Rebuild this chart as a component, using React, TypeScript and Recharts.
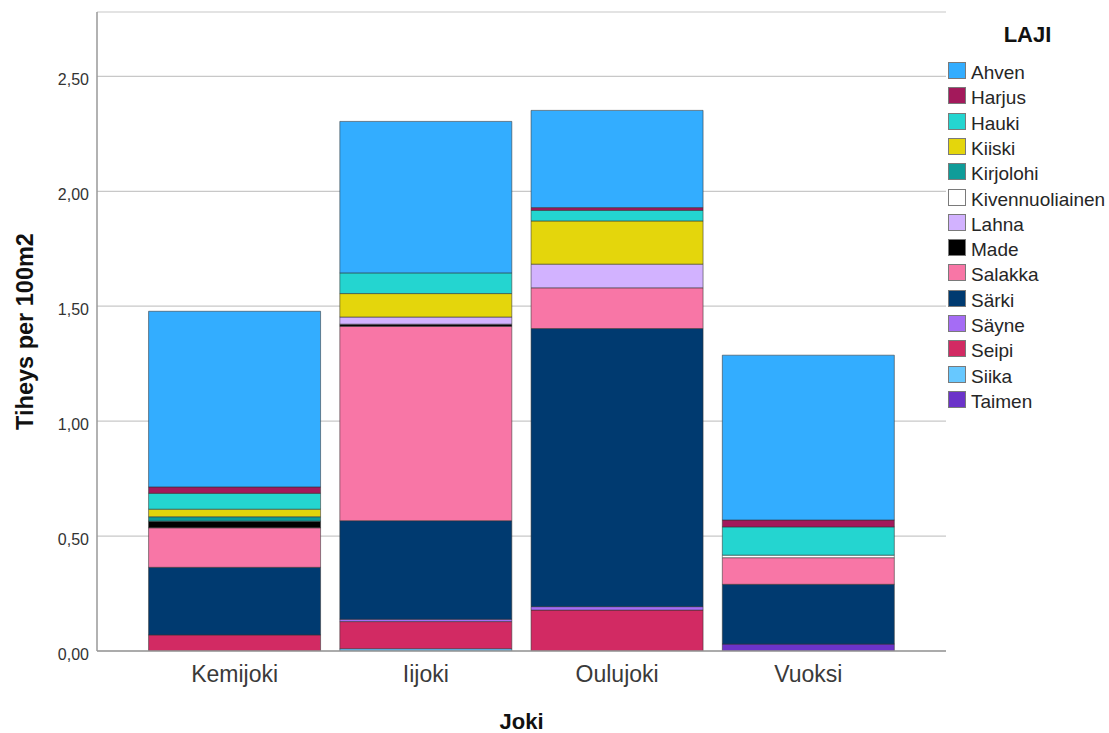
import React from 'react';
import { BarChart, Bar, XAxis, YAxis, CartesianGrid, Legend, Label } from 'recharts';

const rivers = ['Kemijoki', 'Iijoki', 'Oulujoki', 'Vuoksi'];

// values per species, in order of rivers
const ahven = [0.764, 0.659, 0.423, 0.717];
const harjus = [0.028, 0, 0.012, 0.03];
const hauki = [0.069, 0.09, 0.046, 0.123];
const kiiski = [0.033, 0.102, 0.188, 0];
const kirjolohi = [0.019, 0, 0, 0];
const kivennuoliainen = [0, 0, 0, 0.011];
const lahna = [0, 0.031, 0.103, 0];
const made = [0.029, 0.009, 0, 0];
const salakka = [0.172, 0.846, 0.177, 0.116];
const sarki = [0.294, 0.429, 1.21, 0.26];
const sayne = [0, 0.01, 0.015, 0];
const seipi = [0.07, 0.118, 0.178, 0];
const siika = [0, 0.01, 0, 0];
const taimen = [0, 0, 0, 0.03];

const yTicks = [0, 0.5, 1, 1.5, 2, 2.5];

const species = [
  { name: 'Ahven', values: ahven, color: '#33ADFF' },
  { name: 'Harjus', values: harjus, color: '#A3195B' },
  { name: 'Hauki', values: hauki, color: '#24D5D0' },
  { name: 'Kiiski', values: kiiski, color: '#E4D60C' },
  { name: 'Kirjolohi', values: kirjolohi, color: '#0F9C99' },
  { name: 'Kivennuoliainen', values: kivennuoliainen, color: '#FFFFFF' },
  { name: 'Lahna', values: lahna, color: '#D2B2FF' },
  { name: 'Made', values: made, color: '#000000' },
  { name: 'Salakka', values: salakka, color: '#F876A6' },
  { name: 'Särki', values: sarki, color: '#003A70' },
  { name: 'Säyne', values: sayne, color: '#A56CF5' },
  { name: 'Seipi', values: seipi, color: '#D22A63' },
  { name: 'Siika', values: siika, color: '#67C8FF' },
  { name: 'Taimen', values: taimen, color: '#6B33C9' },
];

const data = rivers.map((r, i) => {
  const row: Record<string, any> = { joki: r };
  species.forEach((s) => {
    row[s.name] = s.values[i];
  });
  return row;
});

const FONT = '"Liberation Sans", Arial, Helvetica, sans-serif';

const LegendContent = () => (
  <div style={{ position: 'relative', width: 163, height: 400, fontFamily: FONT }}>
    <div
      style={{
        position: 'absolute',
        left: 0,
        width: 163,
        top: 12,
        textAlign: 'center',
        fontWeight: 'bold',
        fontSize: 22,
        lineHeight: '22px',
        color: '#111',
      }}
    >
      LAJI
    </div>
    {species.map((s, i) => (
      <React.Fragment key={s.name}>
        <div
          style={{
            position: 'absolute',
            left: 2,
            top: 50 + 25.3 * i,
            width: 16,
            height: 15,
            background: s.color,
            border: '1px solid #7a7a7a',
          }}
        />
        <div
          style={{
            position: 'absolute',
            left: 25,
            top: 51 + 25.3 * i,
            fontSize: 19,
            lineHeight: '19px',
            color: '#262626',
            whiteSpace: 'nowrap',
          }}
        >
          {s.name}
        </div>
      </React.Fragment>
    ))}
  </div>
);

const fmt = (v: number) => v.toFixed(2).replace('.', ',');

export default function App() {
  return (
    <div style={{ position: 'absolute', left: 0, top: 0, width: 1109, height: 733, background: '#fff' }}>
      <BarChart
        width={1109}
        height={733}
        data={data}
        margin={{ top: 12, right: 0, bottom: 0, left: 0 }}
        barCategoryGap="5%"
      >
        <CartesianGrid vertical={false} stroke="#c8c8c8" strokeWidth={1.2} />
        <XAxis
          dataKey="joki"
          height={82}
          padding={{ left: 42, right: 42 }}
          tickLine={false}
          tickSize={0}
          tickMargin={15}
          axisLine={{ stroke: '#999', strokeWidth: 1.5 }}
          tick={{ fontSize: 23, fill: '#3a3a3a', fontFamily: FONT }}
        >
          <Label
            value="Joki"
            position="insideBottom"
            offset={4}
            style={{ fontSize: 22, fontWeight: 'bold', fill: '#111', fontFamily: FONT }}
          />
        </XAxis>
        <YAxis
          width={97}
          domain={[0, 2.78]}
          ticks={yTicks}
          tickFormatter={fmt}
          tickLine={false}
          tickSize={0}
          tickMargin={8}
          interval={0}
          allowDataOverflow
          axisLine={{ stroke: '#999', strokeWidth: 1.5 }}
          tick={{ fontSize: 16, fill: '#333', fontFamily: FONT, dy: 3 }}
        >
          <Label
            content={(props: any) => {
              const vb = props.viewBox || {};
              const cy = (vb.y || 0) + (vb.height || 0) / 2;
              const x = 33;
              return (
                <text
                  x={x}
                  y={cy}
                  transform={`rotate(-90 ${x} ${cy})`}
                  textAnchor="middle"
                  style={{ fontSize: 23.5, fontWeight: 'bold', fill: '#111', fontFamily: FONT }}
                >
                  Tiheys per 100m2
                </text>
              );
            }}
          />
        </YAxis>
        <Legend
          layout="vertical"
          align="right"
          verticalAlign="top"
          content={<LegendContent />}
        />
        {[...species].reverse().map((s) => (
          <Bar
            key={s.name}
            dataKey={s.name}
            stackId="a"
            fill={s.color}
            stroke="#333"
            strokeOpacity={0.55}
            strokeWidth={1}
            isAnimationActive={false}
          />
        ))}
      </BarChart>
    </div>
  );
}
